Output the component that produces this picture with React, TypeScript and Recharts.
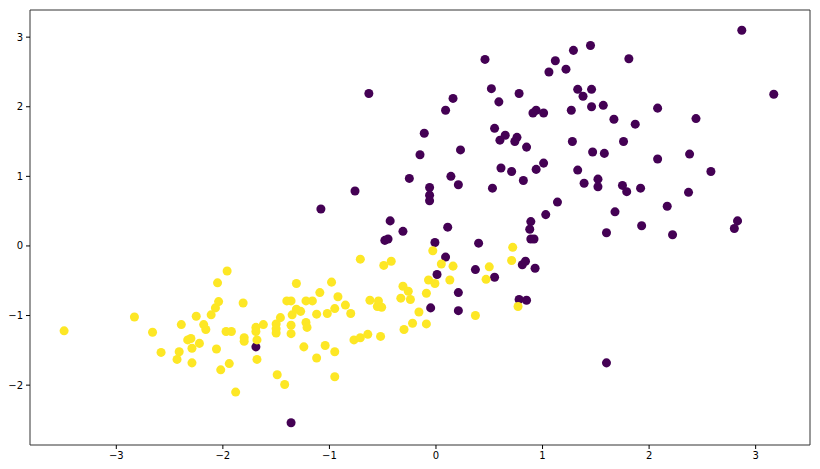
import React from 'react';
import {
  ScatterChart,
  Scatter,
  XAxis,
  YAxis,
  ZAxis,
  ReferenceArea,
} from 'recharts';

// class 0 (purple) points, [x, y]
const purplePoints: [number, number][] = [
  [2.87, 3.1], [1.45, 2.88], [1.29, 2.81], [1.81, 2.69], [0.46, 2.68],
  [1.12, 2.66], [1.22, 2.54], [1.06, 2.5], [0.52, 2.26], [1.33, 2.25],
  [1.46, 2.25], [-0.63, 2.19], [0.78, 2.19], [1.38, 2.15], [3.17, 2.18],
  [0.16, 2.12], [0.59, 2.07], [1.57, 2.02], [1.46, 2.0], [2.08, 1.98],
  [0.09, 1.95], [1.27, 1.95], [0.94, 1.95], [0.91, 1.91], [1.01, 1.91],
  [2.44, 1.83], [1.67, 1.82], [1.87, 1.75], [0.55, 1.69], [-0.11, 1.62],
  [0.65, 1.59], [0.76, 1.56], [0.6, 1.52], [0.74, 1.5], [1.28, 1.5],
  [1.76, 1.5], [0.85, 1.42], [0.23, 1.38], [1.47, 1.35], [1.58, 1.33],
  [-0.15, 1.31], [2.38, 1.32], [2.08, 1.25], [1.01, 1.19], [0.61, 1.12],
  [0.94, 1.1], [1.33, 1.09], [2.58, 1.07], [0.71, 1.07], [0.14, 1.0],
  [-0.25, 0.97], [1.52, 0.96], [0.82, 0.94], [1.39, 0.9], [0.21, 0.88],
  [1.75, 0.87], [-0.06, 0.84], [1.52, 0.85], [1.92, 0.83], [0.53, 0.83],
  [1.79, 0.78], [-0.76, 0.79], [2.37, 0.77], [-0.06, 0.73], [-0.06, 0.65],
  [1.14, 0.63], [2.17, 0.57], [-1.08, 0.53], [1.68, 0.49], [1.03, 0.45],
  [-0.43, 0.36], [0.89, 0.35], [2.83, 0.36], [0.11, 0.27], [1.93, 0.29],
  [2.8, 0.25], [-0.31, 0.21], [0.88, 0.24], [1.6, 0.19], [2.22, 0.16],
  [-0.45, 0.1], [-0.48, 0.08], [0.89, 0.1], [0.92, 0.1], [-0.01, 0.05],
  [0.4, 0.04], [0.09, -0.16], [0.01, -0.41], [0.37, -0.34], [0.55, -0.45],
  [0.93, -0.32], [0.81, -0.27], [0.84, -0.22], [0.21, -0.67], [0.78, -0.77],
  [0.85, -0.78], [-0.05, -0.89], [0.21, -0.93], [-1.69, -1.45], [1.6, -1.68],
  [-1.36, -2.54],
];

// class 1 (yellow) points, [x, y]
const yellowPoints: [number, number][] = [
  [-3.49, -1.22], [-2.83, -1.02], [-2.66, -1.24], [-2.58, -1.53], [-2.43, -1.63],
  [-2.41, -1.52], [-2.39, -1.13], [-2.33, -1.35], [-2.3, -1.33], [-2.29, -1.47],
  [-2.29, -1.68], [-2.25, -1.01], [-2.22, -1.4], [-2.18, -1.13], [-2.16, -1.2],
  [-2.11, -0.99], [-2.07, -0.89], [-2.04, -0.8], [-2.05, -0.53], [-2.06, -1.48],
  [-2.02, -1.78], [-1.97, -1.23], [-1.96, -0.36], [-1.94, -1.69], [-1.92, -1.23],
  [-1.88, -2.1], [-1.81, -0.82], [-1.8, -1.32], [-1.8, -1.37], [-1.69, -1.17],
  [-1.69, -1.23], [-1.68, -1.35], [-1.68, -1.63], [-1.62, -1.13], [-1.5, -1.12],
  [-1.5, -1.19], [-1.5, -1.25], [-1.49, -1.85], [-1.46, -1.03], [-1.42, -1.99],
  [-1.4, -0.79], [-1.36, -0.79], [-1.36, -1.14], [-1.36, -1.26], [-1.35, -0.99],
  [-1.31, -0.54], [-1.31, -0.91], [-1.27, -0.94], [-1.24, -1.45], [-1.22, -0.79],
  [-1.22, -1.1], [-1.21, -1.17], [-1.16, -0.79], [-1.12, -0.98], [-1.12, -1.61],
  [-1.09, -0.67], [-1.04, -1.43], [-1.02, -0.97], [-0.98, -0.52], [-0.95, -0.9],
  [-0.95, -1.52], [-0.95, -1.88], [-0.92, -0.73], [-0.85, -0.85], [-0.8, -0.97],
  [-0.77, -1.35], [-0.71, -1.32], [-0.71, -0.19], [-0.64, -1.27], [-0.62, -0.78],
  [-0.55, -0.87], [-0.54, -0.79], [-0.52, -1.3], [-0.51, -0.88], [-0.49, -0.28],
  [-0.42, -0.22], [-0.33, -0.75], [-0.31, -0.58], [-0.3, -1.2], [-0.26, -0.65],
  [-0.24, -0.77], [-0.22, -1.11], [-0.16, -0.95], [-0.09, -0.68], [-0.09, -1.12],
  [-0.07, -0.49], [-0.03, -0.07], [-0.01, -0.54], [0.05, -0.26], [0.13, -0.49],
  [0.16, -0.29], [0.37, -1.0], [0.47, -0.48], [0.5, -0.3], [0.71, -0.21],
  [0.72, -0.02], [0.77, -0.87],
];

const xTicks = [-3, -2, -1, 0, 1, 2, 3];
const yTicks = [-2, -1, 0, 1, 2, 3];
const xDomain: [number, number] = [-3.81, 3.51];
const yDomain: [number, number] = [-2.86, 3.39];

const toRows = (pts: [number, number][]) => pts.map(([x, y]) => ({ x, y }));
const fmt = (v: number) => (v < 0 ? '\u2212' + Math.abs(v) : String(v));

const tickStyle = { fill: '#000', fontSize: 10, fontFamily: 'DejaVu Sans' };

export default function App() {
  return (
    <div style={{ position: 'absolute', left: 0, top: 0, background: '#fff' }}>
      <ScatterChart
        width={820}
        height={469}
        margin={{ top: 10, right: 10, bottom: 0, left: 0 }}
      >
        <XAxis
          type="number"
          dataKey="x"
          domain={xDomain}
          ticks={xTicks}
          tickFormatter={fmt}
          allowDataOverflow
          height={24}
          axisLine={false}
          tickLine={{ stroke: '#000' }}
          tickSize={4}
          tickMargin={3}
          tick={tickStyle}
        />
        <YAxis
          type="number"
          dataKey="y"
          domain={yDomain}
          ticks={yTicks}
          tickFormatter={fmt}
          allowDataOverflow
          width={30}
          axisLine={false}
          tickLine={{ stroke: '#000' }}
          tickSize={4}
          tickMargin={3}
          tick={tickStyle}
        />
        <ZAxis range={[42, 42]} />
        <ReferenceArea
          x1={xDomain[0]}
          x2={xDomain[1]}
          y1={yDomain[0]}
          y2={yDomain[1]}
          fill="none"
          stroke="#333"
          strokeWidth={1}
        />
        <Scatter
          data={toRows(purplePoints)}
          fill="#440154"
          shape="circle"
          isAnimationActive={false}
        />
        <Scatter
          data={toRows(yellowPoints)}
          fill="#fde725"
          shape="circle"
          isAnimationActive={false}
        />
      </ScatterChart>
    </div>
  );
}
